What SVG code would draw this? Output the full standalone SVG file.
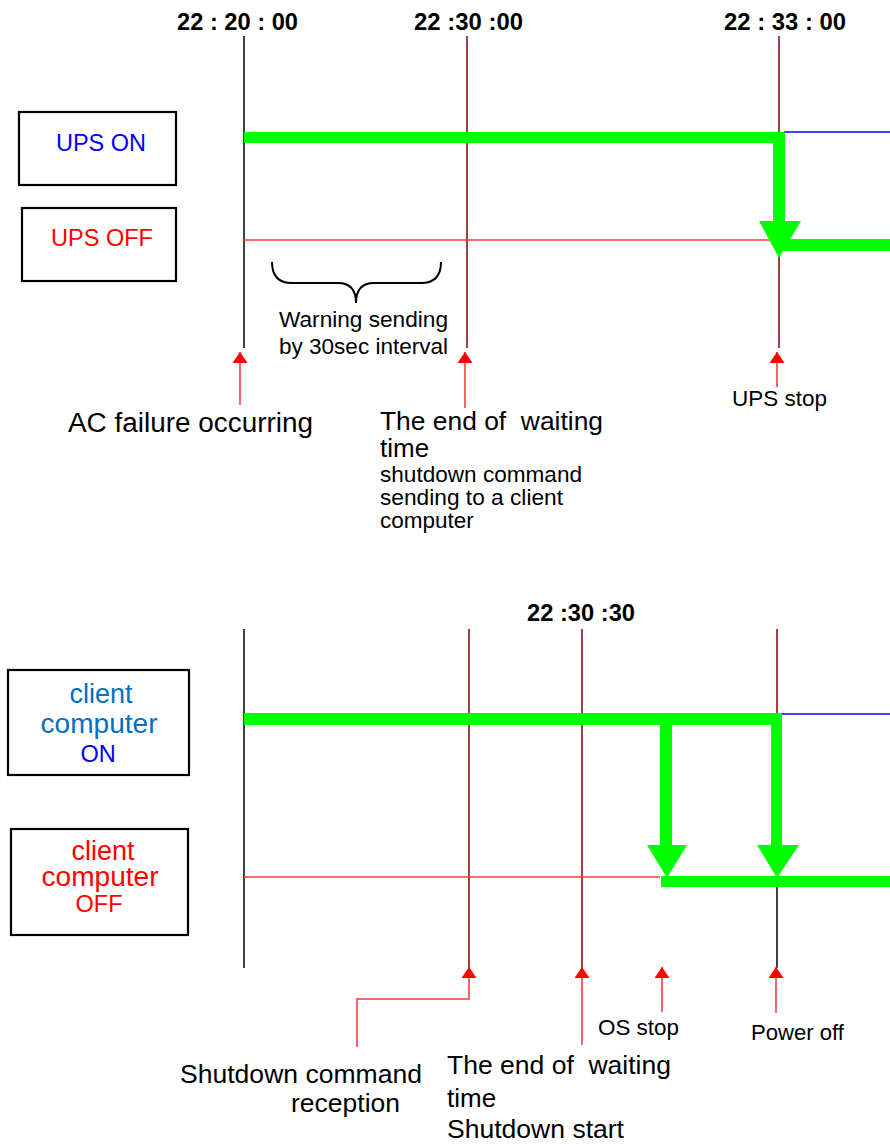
<svg xmlns="http://www.w3.org/2000/svg" width="890" height="1145" viewBox="0 0 890 1145">
<style>
text{font-family:"Liberation Sans",Arial,sans-serif;fill:#000;white-space:pre}
.t{font-weight:bold;font-size:23px}
.box{fill:#fff;stroke:#000;stroke-width:2.2}
.vk{stroke:#000;stroke-width:1.5;fill:none}
.vr{stroke:#800000;stroke-width:1.5;fill:none}
.hr{stroke:#ff3333;stroke-width:1.6;fill:none}
.hb{stroke:#0000ff;stroke-width:1.6;fill:none}
.g{fill:#00ff00}
.ra{stroke:#ff3b3b;stroke-width:1.6;fill:none;marker-end:url(#ah)}
.l1{font-size:27px}
.l2{font-size:26px}
.s{font-size:22.5px}
.m{font-size:22.5px}
</style>
<defs>
<marker id="ah" viewBox="0 -7.5 11 15" markerWidth="11" markerHeight="15" refX="11" refY="0" orient="auto" markerUnits="userSpaceOnUse">
<path d="M0,-7.5 L11,0 L0,7.5 z" fill="#ff0000"/>
</marker>
</defs>

<g id="time-labels">
<text class="t" x="177" y="30" textLength="121" lengthAdjust="spacingAndGlyphs">22 : 20 : 00</text>
<text class="t" x="414" y="30" textLength="109" lengthAdjust="spacingAndGlyphs">22 :30 :00</text>
<text class="t" x="724" y="30" textLength="122" lengthAdjust="spacingAndGlyphs">22 : 33 : 00</text>
<text class="t" x="527" y="621" textLength="108" lengthAdjust="spacingAndGlyphs">22 :30 :30</text>
</g>

<g id="ups-on">
<rect class="box" x="19" y="112" width="157" height="73"/>
<text x="56" y="151" textLength="90" lengthAdjust="spacingAndGlyphs" style="font-size:24px;fill:#0000ff">UPS ON</text>
</g>
<g id="ups-off">
<rect class="box" x="22" y="208" width="154" height="73"/>
<text x="51" y="246" textLength="102" lengthAdjust="spacingAndGlyphs" style="font-size:24px;fill:#ff0000">UPS OFF</text>
</g>
<g id="client-on">
<rect class="box" x="8" y="670" width="181" height="105"/>
<text x="101" y="703" text-anchor="middle" style="font-size:27px;fill:#0070c0">client</text>
<text x="99" y="733" text-anchor="middle" textLength="117" lengthAdjust="spacingAndGlyphs" style="font-size:27px;fill:#0070c0">computer</text>
<text x="98" y="762" text-anchor="middle" style="font-size:23.5px;fill:#0000ff">ON</text>
</g>
<g id="client-off">
<rect class="box" x="11" y="829" width="177" height="106"/>
<text x="103" y="860" text-anchor="middle" style="font-size:27px;fill:#ff0000">client</text>
<text x="100" y="886" text-anchor="middle" textLength="117" lengthAdjust="spacingAndGlyphs" style="font-size:27px;fill:#ff0000">computer</text>
<text x="99" y="912" text-anchor="middle" style="font-size:23.5px;fill:#ff0000">OFF</text>
</g>

<g id="connectors">
<line class="vk" x1="244" y1="36" x2="244" y2="348"/>
<line class="vr" x1="467" y1="36" x2="467" y2="348"/>
<line class="vr" x1="779" y1="36" x2="779" y2="348"/>
<line class="hr" x1="244" y1="240" x2="772" y2="240"/>
<line class="hb" x1="784" y1="132" x2="890" y2="132"/>
<rect class="g" x="244" y="132" width="541" height="11"/>
<rect class="g" x="773" y="132" width="12" height="92"/>
<polygon class="g" points="759,221 801,221 779,258"/>
<rect class="g" x="776" y="239" width="114" height="12"/>
<path d="M272,262 Q272,283 292,283 L338,283 Q356,283 356,303 Q356,283 374,283 L421,283 Q441,283 441,262" fill="none" stroke="#000" stroke-width="2"/>
<line class="ra" x1="240" y1="405" x2="240" y2="352"/>
<line class="ra" x1="465" y1="408" x2="465" y2="352"/>
<line class="ra" x1="777" y1="387" x2="777" y2="352"/>

<line class="vk" x1="244" y1="629" x2="244" y2="968"/>
<line class="vr" x1="469" y1="629" x2="469" y2="968"/>
<line class="vr" x1="582" y1="629" x2="582" y2="968"/>
<line class="vr" x1="777" y1="629" x2="777" y2="720"/>
<line class="vk" x1="777" y1="880" x2="777" y2="968"/>
<line class="hr" x1="244" y1="877" x2="660" y2="877"/>
<line class="hb" x1="782" y1="714" x2="890" y2="714"/>
<rect class="g" x="244" y="713" width="538" height="12"/>
<rect class="g" x="660" y="713" width="12" height="134"/>
<polygon class="g" points="647,845 687,845 667,878"/>
<rect class="g" x="771" y="713" width="11" height="134"/>
<polygon class="g" points="757,845 799,845 777,878"/>
<rect class="g" x="661" y="876" width="229" height="11"/>
<polyline class="ra" points="357,1047 357,999 469,999 469,967"/>
<line class="ra" x1="582" y1="1045" x2="582" y2="967"/>
<line class="ra" x1="662" y1="1012" x2="662" y2="967"/>
<line class="ra" x1="776" y1="1013" x2="776" y2="967"/>
</g>

<g id="labels">
<text class="s" x="279" y="327" textLength="169" lengthAdjust="spacingAndGlyphs">Warning sending</text>
<text class="s" x="279" y="354" textLength="169" lengthAdjust="spacingAndGlyphs">by 30sec interval</text>
<text class="l1" x="68" y="432" textLength="245" lengthAdjust="spacingAndGlyphs">AC failure occurring</text>
<text class="l2" x="380" y="430" textLength="223" lengthAdjust="spacingAndGlyphs" xml:space="preserve">The end of  waiting</text>
<text class="l2" x="380" y="457">time</text>
<text class="s" x="380" y="482" textLength="202" lengthAdjust="spacingAndGlyphs">shutdown command</text>
<text class="s" x="380" y="505" textLength="183" lengthAdjust="spacingAndGlyphs">sending to a client</text>
<text class="s" x="380" y="528">computer</text>
<text class="m" x="732" y="406" textLength="95" lengthAdjust="spacingAndGlyphs">UPS stop</text>
<text class="l2" x="180" y="1083" textLength="242" lengthAdjust="spacingAndGlyphs">Shutdown command</text>
<text class="l2" x="291" y="1112" textLength="109" lengthAdjust="spacingAndGlyphs">reception</text>
<text class="l2" x="447" y="1074" textLength="224" lengthAdjust="spacingAndGlyphs" xml:space="preserve">The end of  waiting</text>
<text class="l2" x="447" y="1107">time</text>
<text class="l2" x="447" y="1138" textLength="177" lengthAdjust="spacingAndGlyphs">Shutdown start</text>
<text class="m" x="598" y="1035" textLength="81" lengthAdjust="spacingAndGlyphs">OS stop</text>
<text class="m" x="751" y="1040" textLength="93" lengthAdjust="spacingAndGlyphs">Power off</text>
</g>
</svg>
